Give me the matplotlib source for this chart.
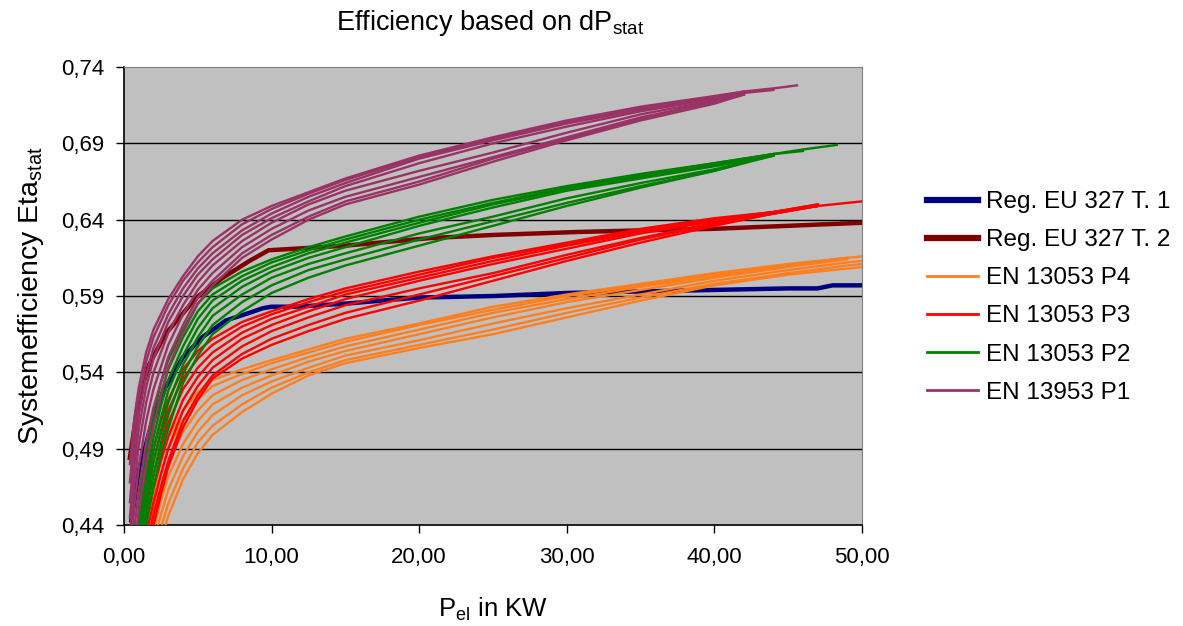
import matplotlib.pyplot as plt
from matplotlib.ticker import FuncFormatter

plt.rcParams['font.family'] = ['Liberation Sans', 'DejaVu Sans']
plt.rcParams['mathtext.default'] = 'regular'

x_ticks = [0, 10, 20, 30, 40, 50]
y_ticks = [0.44, 0.49, 0.54, 0.59, 0.64, 0.69, 0.74]

# Reg. EU 327 tier 1 / tier 2 limit curves
t1_x = [0.5, 1.0, 1.8, 2.8, 4.0, 5.3, 6.9, 8.5, 9.4, 10, 11.6, 15, 18.7, 20, 25, 30, 35, 40, 45, 47, 48, 50]
t1_y = [0.443, 0.475, 0.504, 0.530, 0.550, 0.563, 0.574, 0.579, 0.582, 0.583, 0.583, 0.585, 0.588, 0.589,
        0.590, 0.592, 0.593, 0.594, 0.595, 0.595, 0.597, 0.597]

t2_x = [0.4, 1.0, 1.7, 2.8, 4.9, 6.7, 8.5, 9.8, 11.6, 15, 20.8, 25, 30.9, 35, 39.9, 45, 50]
t2_y = [0.484, 0.523, 0.545, 0.565, 0.589, 0.602, 0.613, 0.620, 0.621, 0.623, 0.628, 0.630, 0.632, 0.633,
        0.634, 0.636, 0.638]

# EN 13053 P4 (orange)
p4_x = [1.5, 2, 2.5, 3, 4, 5, 6, 8, 10, 12.5, 15, 20, 25, 30, 35, 40, 45, 49, 50]
p4_curves = [
    [0.432, 0.460, 0.482, 0.497, 0.515, 0.527, 0.535, 0.542, 0.548, 0.555, 0.562, 0.572, 0.583, 0.591, 0.598, 0.605, 0.611, 0.615, 0.616],
    [0.425, 0.452, 0.474, 0.490, 0.509, 0.522, 0.531, 0.539, 0.546, 0.553, 0.560, 0.571, 0.581, 0.590, 0.597, 0.604, 0.610, 0.615],
    [0.418, 0.444, 0.465, 0.481, 0.501, 0.515, 0.525, 0.535, 0.542, 0.550, 0.557, 0.568, 0.579, 0.588, 0.596, 0.603, 0.610, 0.615],
    [0.411, 0.436, 0.456, 0.472, 0.493, 0.508, 0.519, 0.530, 0.538, 0.547, 0.554, 0.565, 0.576, 0.586, 0.594, 0.602, 0.609, 0.614],
    [0.404, 0.428, 0.447, 0.463, 0.485, 0.501, 0.512, 0.525, 0.534, 0.543, 0.551, 0.561, 0.572, 0.582, 0.591, 0.600, 0.607, 0.612, 0.613],
    [0.397, 0.420, 0.438, 0.454, 0.477, 0.494, 0.505, 0.519, 0.530, 0.540, 0.548, 0.558, 0.568, 0.579, 0.589, 0.598, 0.605, 0.610, 0.611],
    [0.390, 0.412, 0.430, 0.446, 0.470, 0.487, 0.499, 0.514, 0.526, 0.538, 0.546, 0.556, 0.565, 0.576, 0.587, 0.597, 0.604, 0.608, 0.609],
]

# EN 13053 P3 (red)
p3_x = [1.0, 1.5, 2, 2.5, 3, 4, 5, 6, 8, 10, 12.5, 15, 20, 25, 30, 35, 40, 44, 47, 50]
p3_curves = [
    [0.435, 0.468, 0.490, 0.508, 0.522, 0.542, 0.554, 0.562, 0.573, 0.580, 0.588, 0.595, 0.606, 0.616, 0.625, 0.634, 0.641, 0.645, 0.649, 0.652],
    [0.428, 0.460, 0.482, 0.500, 0.515, 0.536, 0.549, 0.558, 0.570, 0.578, 0.586, 0.593, 0.604, 0.615, 0.624, 0.633, 0.640, 0.645, 0.650],
    [0.420, 0.451, 0.473, 0.491, 0.507, 0.529, 0.543, 0.553, 0.566, 0.575, 0.583, 0.591, 0.602, 0.613, 0.623, 0.632, 0.640, 0.645, 0.649],
    [0.412, 0.442, 0.464, 0.482, 0.498, 0.522, 0.537, 0.548, 0.562, 0.571, 0.580, 0.588, 0.600, 0.611, 0.621, 0.631, 0.639, 0.645, 0.650],
    [0.405, 0.433, 0.455, 0.473, 0.490, 0.515, 0.531, 0.543, 0.557, 0.567, 0.576, 0.584, 0.595, 0.605, 0.617, 0.628, 0.638, 0.644, 0.649],
    [0.398, 0.424, 0.447, 0.465, 0.482, 0.508, 0.525, 0.538, 0.552, 0.562, 0.571, 0.579, 0.591, 0.603, 0.615, 0.627, 0.637, 0.644, 0.649],
    [0.390, 0.415, 0.440, 0.460, 0.478, 0.504, 0.522, 0.536, 0.549, 0.558, 0.567, 0.575, 0.587, 0.600, 0.613, 0.625, 0.636, 0.644, 0.649],
]

# EN 13053 P2 (green)
p2_x = [0.8, 1.2, 1.6, 2, 2.5, 3, 4, 5, 6, 8, 10, 12.5, 15, 20, 25, 30, 35, 40, 44, 46, 48.3]
p2_curves = [
    [0.430, 0.468, 0.492, 0.512, 0.533, 0.548, 0.568, 0.585, 0.595, 0.606, 0.614, 0.622, 0.629, 0.642, 0.653, 0.662, 0.670, 0.677, 0.683, 0.686, 0.689],
    [0.424, 0.460, 0.485, 0.505, 0.526, 0.542, 0.563, 0.580, 0.591, 0.603, 0.612, 0.620, 0.627, 0.640, 0.651, 0.661, 0.669, 0.677, 0.683, 0.685],
    [0.417, 0.452, 0.477, 0.497, 0.518, 0.535, 0.557, 0.575, 0.587, 0.600, 0.609, 0.618, 0.625, 0.638, 0.650, 0.660, 0.668, 0.676, 0.683],
    [0.410, 0.444, 0.469, 0.489, 0.510, 0.528, 0.551, 0.569, 0.582, 0.596, 0.606, 0.615, 0.622, 0.636, 0.648, 0.659, 0.667, 0.675, 0.682],
    [0.403, 0.436, 0.461, 0.481, 0.502, 0.520, 0.545, 0.563, 0.577, 0.591, 0.602, 0.611, 0.618, 0.631, 0.642, 0.654, 0.664, 0.673, 0.682],
    [0.396, 0.428, 0.453, 0.473, 0.494, 0.512, 0.539, 0.557, 0.571, 0.586, 0.597, 0.607, 0.614, 0.627, 0.639, 0.651, 0.662, 0.672, 0.682],
    [0.390, 0.420, 0.445, 0.465, 0.486, 0.503, 0.533, 0.551, 0.565, 0.580, 0.592, 0.602, 0.610, 0.623, 0.636, 0.649, 0.661, 0.672, 0.683],
]

# EN 13953 P1 (purple)
p1_x = [0.4, 0.7, 1.0, 1.5, 2, 3, 4, 5, 6, 8, 10, 12.5, 15, 20, 25, 30, 35, 40, 42, 44, 45.6]
p1_curves = [
    [0.480, 0.510, 0.530, 0.553, 0.568, 0.588, 0.603, 0.616, 0.626, 0.640, 0.649, 0.658, 0.667, 0.682, 0.694, 0.705, 0.714, 0.721, 0.724, 0.726, 0.728],
    [0.468, 0.500, 0.522, 0.547, 0.563, 0.584, 0.600, 0.612, 0.622, 0.637, 0.647, 0.657, 0.666, 0.681, 0.693, 0.704, 0.713, 0.720, 0.723, 0.725],
    [0.455, 0.488, 0.512, 0.538, 0.556, 0.578, 0.595, 0.608, 0.618, 0.633, 0.644, 0.655, 0.664, 0.680, 0.692, 0.703, 0.712, 0.720, 0.724],
    [0.445, 0.478, 0.503, 0.530, 0.549, 0.573, 0.590, 0.604, 0.614, 0.630, 0.641, 0.652, 0.662, 0.677, 0.690, 0.701, 0.711, 0.719, 0.723],
    [0.432, 0.466, 0.492, 0.520, 0.540, 0.566, 0.584, 0.599, 0.610, 0.626, 0.638, 0.650, 0.659, 0.672, 0.684, 0.697, 0.709, 0.718, 0.722],
    [0.420, 0.452, 0.478, 0.508, 0.529, 0.558, 0.578, 0.594, 0.605, 0.622, 0.634, 0.646, 0.655, 0.668, 0.681, 0.694, 0.707, 0.717, 0.722],
    [0.408, 0.438, 0.462, 0.494, 0.517, 0.550, 0.571, 0.589, 0.600, 0.618, 0.630, 0.642, 0.652, 0.665, 0.680, 0.693, 0.706, 0.718],
    [0.398, 0.425, 0.448, 0.480, 0.505, 0.543, 0.566, 0.585, 0.597, 0.615, 0.627, 0.640, 0.650, 0.663, 0.678, 0.692, 0.705, 0.716, 0.722],
]

fig = plt.figure(figsize=(11.83, 6.26), dpi=100)
ax = fig.add_axes([0.1048, 0.1613, 0.6238, 0.7316])
ax.set_facecolor('#C0C0C0')

for y in y_ticks[1:-1]:
    ax.axhline(y, color='black', lw=1.0, zorder=1)

ax.plot(t1_x, t1_y, color='#000080', lw=3.2, label='Reg. EU 327 T. 1', zorder=2)
ax.plot(t2_x, t2_y, color='#800000', lw=3.2, label='Reg. EU 327 T. 2', zorder=2)

families = [
    (p4_x, p4_curves, '#FF7F1F', 'EN 13053 P4'),
    (p3_x, p3_curves, '#FF0000', 'EN 13053 P3'),
    (p2_x, p2_curves, '#008000', 'EN 13053 P2'),
    (p1_x, p1_curves, '#993366', 'EN 13953 P1'),
]
for xs, curves, col, name in families:
    for i, ys in enumerate(curves):
        ax.plot(xs[:len(ys)], ys, color=col, lw=1.7, zorder=3,
                label=name if i == 0 else None)

ax.set_xlim(0, 50)
ax.set_ylim(0.44, 0.74)
ax.set_xticks(x_ticks)
ax.set_yticks(y_ticks)
ax.xaxis.set_major_formatter(FuncFormatter(lambda v, p: f"{v:.2f}".replace('.', ',')))
ax.yaxis.set_major_formatter(FuncFormatter(lambda v, p: f"{v:.2f}".replace('.', ',')))
ax.tick_params(axis='both', labelsize=16, direction='out', length=6, width=1, color='black')
ax.tick_params(axis='y', pad=8)
ax.tick_params(axis='x', pad=10)

for side in ['top', 'right']:
    ax.spines[side].set_color('#808080')
for side in ['left', 'bottom']:
    ax.spines[side].set_color('black')
    ax.spines[side].set_linewidth(1.2)

ax.set_xlabel('P$_{el}$ in KW', fontsize=18.5, labelpad=20)
ax.set_ylabel('Systemefficiency Eta$_{stat}$', fontsize=20.5, labelpad=11)
fig.text(490 / 1183, 1 - 23 / 626, 'Efficiency based on dP$_{stat}$', fontsize=19.5,
         ha='center', va='center')

leg = ax.legend(loc='upper left', bbox_to_anchor=(920 / 1183, 1 - 184 / 626),
                bbox_transform=fig.transFigure, frameon=False, fontsize=17.5,
                handlelength=2.1, labelspacing=0.66, handletextpad=0.3,
                borderaxespad=0, borderpad=0.3)
for h in leg.get_lines()[2:]:
    h.set_linewidth(2.0)
for h in leg.get_lines()[:2]:
    h.set_linewidth(4.5)

fig.savefig('out.png', dpi=100)
